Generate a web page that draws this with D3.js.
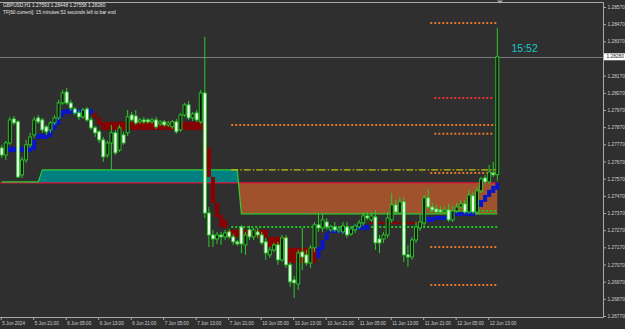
<!DOCTYPE html>
<html>
<head>
<meta charset="utf-8">
<script src="https://cdn.jsdelivr.net/npm/d3@7"></script>
<style>
  html, body { margin: 0; padding: 0; background: #2f2f2f; }
  svg { display: block; }
  text { font-family: "Liberation Sans", Arial, sans-serif; }
</style>
</head>
<body>
<div id="chart"></div>
<script>
// GBPUSD H1, 5 Jun 13:00 .. 12 Jun 15:00 (bar index 0..122)
const opens = [1.27749,1.27708,1.27778,1.27918,1.27901,1.27592,1.27679,1.27767,1.27825,1.27924,
  1.27912,1.27872,1.27854,1.27895,1.27924,1.28011,1.28075,1.28011,1.27976,1.27953,
  1.27930,1.27976,1.27912,1.27866,1.27843,1.27796,1.27708,1.27778,1.27837,1.27737,
  1.27825,1.27837,1.27941,1.27935,1.27901,1.27912,1.27912,1.27901,1.27912,1.27889,
  1.27901,1.27883,1.27872,1.27901,1.27854,1.27941,1.28000,1.27924,1.27953,1.27901,
  1.28069,1.27370,1.27242,1.27219,1.27242,1.27231,1.27260,1.27231,1.27202,1.27289,
  1.27184,1.27272,1.27231,1.27260,1.27242,1.27202,1.27126,1.27155,1.27184,1.27097,
  1.27225,1.27068,1.26980,1.26957,1.27143,1.27126,1.27079,1.27167,1.27301,1.27283,
  1.27318,1.27272,1.27289,1.27266,1.27260,1.27289,1.27248,1.27272,1.27289,1.27312,
  1.27353,1.27330,1.27347,1.27219,1.27219,1.27242,1.27330,1.27417,1.27370,1.27435,
  1.27126,1.27114,1.27213,1.27283,1.27312,1.27458,1.27405,1.27394,1.27388,1.27376,
  1.27388,1.27330,1.27382,1.27405,1.27423,1.27376,1.27470,1.27376,1.27499,1.27574,
  1.27551,1.27603,1.27593];
const highs = [1.27767,1.27790,1.27930,1.27935,1.27912,1.27697,1.27796,1.27837,1.27930,1.27941,
  1.27924,1.27883,1.27906,1.27941,1.28029,1.28087,1.28099,1.28029,1.27988,1.27970,
  1.27982,1.27988,1.27930,1.27877,1.27854,1.27813,1.27790,1.27883,1.27854,1.27883,
  1.27843,1.27970,1.27959,1.27970,1.27924,1.27930,1.27924,1.27924,1.27930,1.27912,
  1.27912,1.27906,1.27912,1.27918,1.27953,1.28011,1.28023,1.27959,1.27970,1.28087,
  1.28396,1.27405,1.27272,1.27260,1.27260,1.27272,1.27277,1.27248,1.27213,1.27301,
  1.27260,1.27295,1.27283,1.27283,1.27260,1.27225,1.27172,1.27196,1.27202,1.27242,
  1.27242,1.27085,1.27004,1.27155,1.27283,1.27155,1.27184,1.27318,1.27370,1.27370,
  1.27341,1.27301,1.27318,1.27295,1.27318,1.27318,1.27295,1.27307,1.27330,1.27376,
  1.27376,1.27376,1.27388,1.27242,1.27260,1.27376,1.27487,1.27446,1.27464,1.27464,
  1.27184,1.27231,1.27318,1.27359,1.27475,1.27510,1.27429,1.27417,1.27411,1.27411,
  1.27423,1.27411,1.27429,1.27446,1.27446,1.27505,1.27493,1.27522,1.27580,1.27592,
  1.27650,1.27668,1.28448];
const lows = [1.27691,1.27679,1.27767,1.27883,1.27574,1.27574,1.27662,1.27749,1.27808,1.27889,
  1.27837,1.27825,1.27837,1.27883,1.27912,1.28000,1.28000,1.27965,1.27941,1.27912,
  1.27918,1.27901,1.27854,1.27813,1.27778,1.27668,1.27691,1.27621,1.27708,1.27726,
  1.27767,1.27819,1.27901,1.27883,1.27889,1.27889,1.27889,1.27889,1.27860,1.27877,
  1.27872,1.27872,1.27860,1.27831,1.27843,1.27930,1.27912,1.27906,1.27901,1.27889,
  1.27341,1.27172,1.27172,1.27190,1.27184,1.27213,1.27219,1.27184,1.27178,1.27137,
  1.27126,1.27213,1.27213,1.27225,1.27184,1.27097,1.27108,1.27143,1.27068,1.27085,
  1.27050,1.26940,1.26875,1.26922,1.27038,1.27062,1.27050,1.27143,1.27260,1.27260,
  1.27272,1.27260,1.27260,1.27254,1.27248,1.27225,1.27236,1.27254,1.27277,1.27295,
  1.27330,1.27318,1.27155,1.27137,1.27196,1.27225,1.27312,1.27359,1.27359,1.27085,
  1.27056,1.27097,1.27196,1.27266,1.27295,1.27394,1.27376,1.27365,1.27365,1.27365,
  1.27318,1.27318,1.27370,1.27394,1.27365,1.27365,1.27365,1.27365,1.27487,1.27539,
  1.27539,1.27580,1.27558];
const closes = [1.27708,1.27778,1.27912,1.27895,1.27580,1.27679,1.27767,1.27813,1.27912,1.27901,
  1.27854,1.27843,1.27895,1.27924,1.28011,1.28069,1.28011,1.27982,1.27953,1.27930,
  1.27970,1.27912,1.27866,1.27837,1.27796,1.27697,1.27778,1.27837,1.27720,1.27866,
  1.27778,1.27930,1.27912,1.27895,1.27912,1.27901,1.27901,1.27912,1.27872,1.27901,
  1.27883,1.27895,1.27901,1.27843,1.27941,1.28000,1.27924,1.27947,1.27912,1.28069,
  1.27370,1.27242,1.27219,1.27242,1.27231,1.27254,1.27231,1.27202,1.27190,1.27190,
  1.27242,1.27231,1.27272,1.27242,1.27196,1.27137,1.27155,1.27184,1.27097,1.27225,
  1.27068,1.26969,1.26963,1.27137,1.27114,1.27079,1.27167,1.27301,1.27283,1.27330,
  1.27289,1.27289,1.27272,1.27277,1.27295,1.27242,1.27277,1.27295,1.27312,1.27353,
  1.27341,1.27353,1.27196,1.27196,1.27242,1.27341,1.27417,1.27376,1.27435,1.27126,
  1.27114,1.27213,1.27289,1.27318,1.27458,1.27405,1.27388,1.27376,1.27376,1.27388,
  1.27330,1.27382,1.27405,1.27423,1.27376,1.27475,1.27376,1.27499,1.27568,1.27551,
  1.27609,1.27592,1.28280];

// trailing band, as runs of bars
const trailStart = [2, 8, 9, 12, 13, 14, 15, 16, 23, 24, 25, 50, 51, 52, 53, 54, 55, 56, 66, 71,
  78, 79, 80, 81, 87, 91, 104, 107, 111, 117, 118, 119, 120, 121, 122];
const trailEnd = [7, 8, 11, 12, 13, 14, 15, 22, 23, 24, 49, 50, 51, 52, 53, 54, 55, 65, 70, 77,
  78, 79, 80, 86, 90, 103, 106, 110, 116, 117, 118, 119, 120, 121, 122];
const trailTop = [1.27755,1.27796,1.27831,1.27872,1.27901,1.27941,1.27970,1.27976,1.27953,1.27924,
  1.27901,1.27877,1.27749,1.27580,1.27429,1.27359,1.27330,1.27272,1.27231,1.27167,
  1.27172,1.27213,1.27254,1.27283,1.27301,1.27318,1.27347,1.27353,1.27376,1.27417,
  1.27446,1.27475,1.27505,1.27528,1.27545];
const trailBottom = [1.27726,1.27737,1.27802,1.27813,1.27854,1.27883,1.27930,1.27947,1.27924,1.27883,
  1.27854,1.27737,1.27580,1.27429,1.27347,1.27289,1.27283,1.27231,1.27172,1.27079,
  1.27108,1.27155,1.27213,1.27254,1.27272,1.27307,1.27318,1.27330,1.27353,1.27376,
  1.27405,1.27435,1.27464,1.27487,1.27505];
const trailTrend = ["up","up","up","up","up","up","up","up","down","down",
  "down","down","down","down","down","down","down","down","down","down",
  "up","up","up","up","up","down","up","up","up","up",
  "up","up","up","up","up"];

// zone: upper line runs and a flat base line
const zoneStart = [0, 10, 59];
const zoneEnd = [9, 58, 122];
const zoneUpper = [1.27551, 1.27621, 1.27365];
const zoneBase = 1.27545;

// horizontal levels
const levelPrice = [1.27883, 1.27621, 1.27289, 1.28477, 1.28040, 1.27831, 1.27603, 1.27382, 1.27172, 1.26951];
const levelFrom = [57, 57, 57, 106, 107, 107, 106, 106, 106, 106];
const levelTo = [122, 122, 122, 122, 121, 121, 122, 122, 122, 122];
const levelKind = ["orange", "yellow", "green", "orange", "red", "orange", "orange", "green", "orange", "orange"];

// 1.28270 sits under the bid label, so it is left out
const priceTicks = [1.28570,1.28470,1.28370,1.28170,1.28070,1.27970,1.27870,1.27770,1.27670,
  1.27570,1.27470,1.27370,1.27270,1.27170,1.27070,1.26970,1.26870,1.26770];
const timeTickBars = [0, 8, 16, 24, 32, 40, 48, 56, 64, 72, 80, 88, 96, 104, 112, 120];
const timeTickLabels = ["5 Jun 2024","5 Jun 21:00","6 Jun 05:00","6 Jun 13:00","6 Jun 21:00",
  "7 Jun 05:00","7 Jun 13:00","7 Jun 21:00","10 Jun 05:00","10 Jun 13:00","10 Jun 21:00",
  "11 Jun 05:00","11 Jun 13:00","11 Jun 21:00","12 Jun 05:00","12 Jun 13:00"];

const bidPrice = 1.28280;
const headerLine1 = "GBPUSD,H1  1.27593 1.28448 1.27558 1.28280";
const headerLine2 = "TF[60 current]: 15 minutes 52 seconds left to bar end";
const countdown = "15:52";

const width = 625, height = 329;
const plotRight = 603, plotTop = 2, plotBottom = 317;

const levelStyle = {
  orange: { color: "#e0782a", dash: "2,2", w: 2 },
  red:    { color: "#e83030", dash: "2,2", w: 2 },
  green:  { color: "#1ec81e", dash: "2,2", w: 2 },
  yellow: { color: "#c2c20a", dash: "7,2,1.5,2", w: 1.2 }
};

const svg = d3.select("#chart")
  .append("svg")
  .attr("width", width)
  .attr("height", height);

svg.append("rect").attr("width", width).attr("height", height).attr("fill", "#2f2f2f");

const defs = svg.append("defs");
defs.append("clipPath").attr("id", "plotClip")
  .append("rect").attr("x", 0).attr("y", plotTop).attr("width", plotRight).attr("height", plotBottom - plotTop);

const x = d3.scaleLinear().domain([0, 122]).range([1.7, 497.3]);
const y = d3.scaleLinear().domain([1.26770, 1.28570]).range([316, 7]);
const step = x(1) - x(0);

defs.append("clipPath").attr("id", "aboveBase")
  .append("rect").attr("x", 0).attr("y", 0).attr("width", plotRight).attr("height", y(zoneBase));
defs.append("clipPath").attr("id", "belowBase")
  .append("rect").attr("x", 0).attr("y", y(zoneBase)).attr("width", plotRight).attr("height", plotBottom - y(zoneBase));

const plot = svg.append("g").attr("clip-path", "url(#plotClip)");

// zone fill
const zone = [];
zoneStart.forEach((s, k) => {
  for (let i = s; i <= zoneEnd[k]; i++) zone.push({ i: i, v: zoneUpper[k] });
});
const zoneArea = d3.area().x(d => x(d.i)).y0(y(zoneBase)).y1(d => y(d.v));
plot.append("path").datum(zone).attr("d", zoneArea).attr("fill", "#008080").attr("clip-path", "url(#aboveBase)");
plot.append("path").datum(zone).attr("d", zoneArea).attr("fill", "#a0522d").attr("clip-path", "url(#belowBase)");
plot.append("line")
  .attr("x1", 0).attr("x2", x(122))
  .attr("y1", y(zoneBase)).attr("y2", y(zoneBase))
  .attr("stroke", "#dc143c").attr("stroke-width", 1.2);
plot.append("path").datum(zone)
  .attr("d", d3.line().x(d => x(d.i)).y(d => y(d.v)))
  .attr("fill", "none").attr("stroke", "#32cd32").attr("stroke-width", 1.2);

// bid line
plot.append("line")
  .attr("x1", 0).attr("x2", plotRight)
  .attr("y1", Math.round(y(bidPrice)) + 0.5).attr("y2", Math.round(y(bidPrice)) + 0.5)
  .attr("stroke", "#7a7a7a").attr("stroke-width", 1);

// levels
levelPrice.forEach((p, k) => {
  const st = levelStyle[levelKind[k]];
  plot.append("line")
    .attr("x1", x(levelFrom[k]) - step / 2).attr("x2", x(levelTo[k]))
    .attr("y1", y(p)).attr("y2", y(p))
    .attr("stroke", st.color).attr("stroke-width", st.w)
    .attr("stroke-dasharray", st.dash);
});

// trailing band
const trail = [];
trailStart.forEach((s, k) => {
  for (let i = s; i <= trailEnd[k]; i++) trail.push({ i: i, top: trailTop[k], bot: trailBottom[k], trend: trailTrend[k] });
});
plot.selectAll(".trail")
  .data(trail)
  .join("rect")
  .attr("class", "trail")
  .attr("x", d => x(d.i) - step / 2)
  .attr("width", step)
  .attr("y", d => y(d.top))
  .attr("height", d => Math.max(1.5, y(d.bot) - y(d.top)))
  .attr("fill", d => d.trend === "up" ? "#0a14c8" : "#8b0000");

// candles
const bars = opens.map((o, i) => ({ i: i, o: o, h: highs[i], l: lows[i], c: closes[i] }));
const candle = plot.selectAll(".candle").data(bars).join("g").attr("class", "candle");
candle.append("line")
  .attr("x1", d => x(d.i)).attr("x2", d => x(d.i))
  .attr("y1", d => y(d.h)).attr("y2", d => y(d.l))
  .attr("stroke", "#2ec82e").attr("stroke-width", 1);
candle.append("rect")
  .attr("x", d => x(d.i) - 1.5)
  .attr("width", 3)
  .attr("y", d => y(Math.max(d.o, d.c)))
  .attr("height", d => Math.max(0.8, Math.abs(y(d.o) - y(d.c))))
  .attr("fill", d => d.c >= d.o ? "#0b1a0b" : "#f2fff2")
  .attr("stroke", "#2ec82e").attr("stroke-width", 0.9);

// frame
svg.append("path")
  .attr("d", `M0,${plotTop + 0.5}H${plotRight + 0.5}V${plotBottom + 0.5}H0`)
  .attr("fill", "none").attr("stroke", "#a8a8a8").attr("stroke-width", 1);

// shift marker
svg.append("path")
  .attr("d", "M497,0.5L503,0.5L500,3.5Z")
  .attr("fill", "#a8a8a8");

// price axis
const yAxis = svg.append("g")
  .attr("transform", `translate(${plotRight + 0.5},0)`)
  .call(d3.axisRight(y).tickValues(priceTicks).tickSize(2.5).tickPadding(1.5).tickFormat(d3.format(".5f")));
yAxis.select(".domain").remove();
yAxis.selectAll("line").attr("stroke", "#a8a8a8");
yAxis.selectAll("text").attr("fill", "#cfcfcf").style("font-size", "4.8px");

// time axis
const xAxis = svg.append("g")
  .attr("transform", `translate(-1,${plotBottom + 0.5})`)
  .call(d3.axisBottom(x).tickValues(timeTickBars).tickSize(2.5)
    .tickFormat((d, k) => timeTickLabels[k]));
xAxis.select(".domain").remove();
xAxis.selectAll("line").attr("stroke", "#a8a8a8");
xAxis.selectAll("text")
  .attr("fill", "#cfcfcf").style("font-size", "4.6px")
  .attr("text-anchor", "start").attr("x", 1).attr("y", 4).attr("dy", "0.71em");

// bid label
const by = y(bidPrice);
svg.append("rect")
  .attr("x", plotRight + 1).attr("y", by - 3.5)
  .attr("width", 21).attr("height", 7)
  .attr("fill", "#ffffff");
svg.append("text")
  .attr("x", plotRight + 3.5).attr("y", by + 1.7)
  .attr("fill", "#1a1a1a").style("font-size", "4.8px")
  .text(d3.format(".5f")(bidPrice));

// header texts
svg.append("text").attr("x", 3).attr("y", 7)
  .attr("fill", "#e6e6e6").style("font-size", "4.8px").text(headerLine1);
svg.append("text").attr("x", 3).attr("y", 14)
  .attr("fill", "#e6e6e6").style("font-size", "4.8px").text(headerLine2);

// countdown
svg.append("text").attr("x", 511.5).attr("y", 51.5)
  .attr("fill", "#14c8c8").style("font-size", "10.5px").text(countdown);
</script>
</body>
</html>
